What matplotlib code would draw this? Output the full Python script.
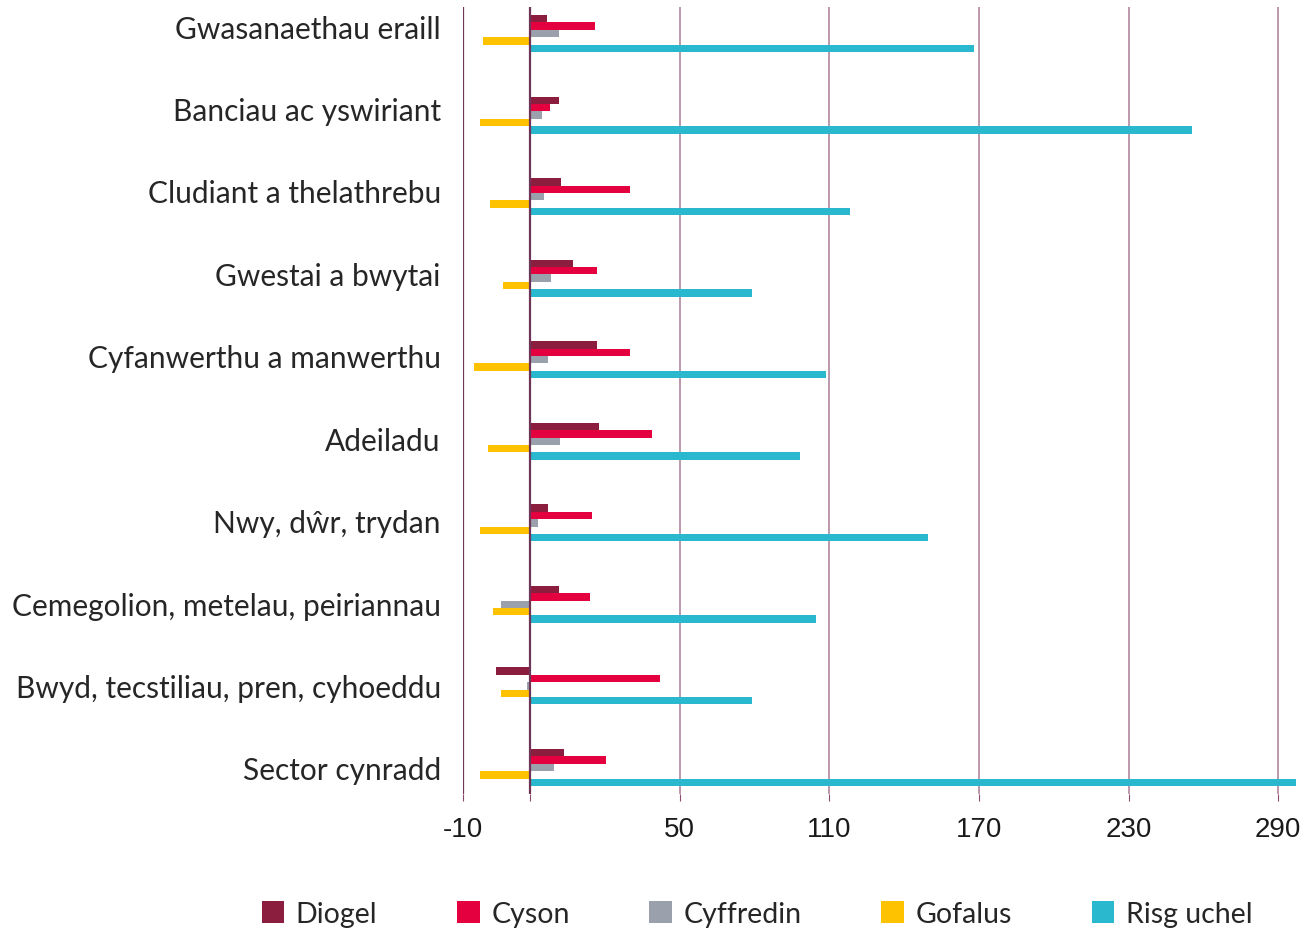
import matplotlib
matplotlib.use("Agg")
import matplotlib.pyplot as plt
import numpy as np
from matplotlib.patches import Patch

categories = ["Gwasanaethau eraill", "Banciau ac yswiriant", "Cludiant a thelathrebu",
              "Gwestai a bwytai", "Cyfanwerthu a manwerthu", "Adeiladu",
              "Nwy, dŵr, trydan", "Cemegolion, metelau, peiriannau",
              "Bwyd, tecstiliau, pren, cyhoeddu", "Sector cynradd"]
series_names = ["Diogel", "Cyson", "Cyffredin", "Gofalus", "Risg uchel"]
diogel = [6.9, 11.4, 12.2, 17.0, 26.6, 27.4, 7.3, 11.4, -13.9, 13.4]
cyson = [25.8, 8.1, 39.8, 26.6, 40.2, 48.7, 24.6, 23.8, 51.9, 30.2]
cyffredin = [11.4, 4.5, 5.3, 8.5, 7.3, 11.8, 2.9, -11.9, -1.5, 9.4]
gofalus = [-19.1, -20.3, -16.3, -11.1, -22.7, -17.1, -20.3, -15.1, -11.9, -20.3]
risg_uchel = [178.2, 265.6, 128.1, 88.8, 118.8, 108.4, 159.7, 114.8, 88.8, 307.0]
tick_positions = [-27, 0, 60, 120, 180, 240, 300]
tick_labels = ["-10", "", "50", "110", "170", "230", "290"]

colors = ["#8B1E3F", "#E4003F", "#9AA0AC", "#FFC200", "#29B8CE"]
series = [diogel, cyson, cyffredin, gofalus, risg_uchel]

cat_font = ["Lato", "DejaVu Sans"]
tick_font = ["Liberation Sans Narrow", "Liberation Sans", "DejaVu Sans"]

fig = plt.figure(figsize=(13.13, 9.29), dpi=100)
ax = fig.add_axes([463/1313, 1-795/929, (1300-463)/1313, (795-8)/929])

y = np.arange(len(categories))
h = 7.4/81.56
for k, (vals, c) in enumerate(zip(series, colors)):
    ax.barh(y + (k-2)*h, vals, height=h, color=c, zorder=3, label=series_names[k])

ax.set_xlim(-27, 308.8)
ax.set_ylim(9.325, -0.325)

for p in tick_positions:
    col = "#6E3556" if p in (-27, 0) else "#B890A6"
    lw = 1.6 if p in (-27, 0) else 1.3
    ax.axvline(p, color=col, lw=lw, zorder=1 if p != 0 else 4)

ax.set_xticks(tick_positions)
ax.set_xticklabels(tick_labels, fontsize=20, family=tick_font, color="#1a1a1a")
ax.tick_params(axis="x", length=5, color="#8B4A6E", pad=11)

# category labels sit slightly above group centres near the top
label_y = (27 + 82.44*y - 34.5)/81.56
ax.set_yticks(label_y)
ax.set_yticklabels(categories, fontsize=21.5, family=cat_font, color="#262626")
ax.tick_params(axis="y", length=0, pad=16)
for s in ax.spines.values():
    s.set_visible(False)

handles = [Patch(facecolor=c, edgecolor="none") for c in colors]
fig.legend(handles, series_names, loc="center", bbox_to_anchor=(757/1313, 1-915/929),
           ncol=5, frameon=False, labelcolor="#262626",
           prop={"family": cat_font, "size": 20.5},
           handlelength=0.8, handleheight=0.8, handletextpad=0.4, columnspacing=2.8)

fig.savefig("out.png", dpi=100)
